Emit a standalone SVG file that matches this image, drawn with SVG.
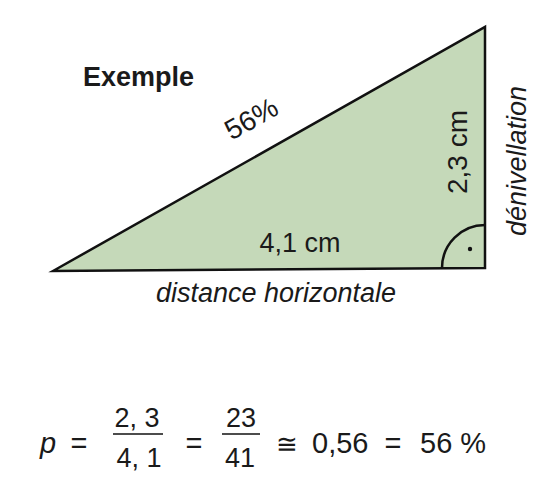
<svg xmlns="http://www.w3.org/2000/svg" width="539" height="484" viewBox="0 0 539 484">
<style>
.t{font-family:"Liberation Sans",Arial,sans-serif;fill:#1a1a1a}
.i{font-style:italic}
.edge{fill:none;stroke:#111;stroke-width:2.5}
</style>
<rect width="539" height="484" fill="#ffffff"/>
<g id="triangle">
<polygon points="53,271 485,27 485,268" fill="#c5d9b9" stroke="#111" stroke-width="2.5" stroke-linejoin="miter"/>
<path class="edge" d="M442,268 A43,43 0 0 1 485,225" stroke-width="2"/>
<circle cx="470" cy="249" r="2.2" fill="#111"/>
</g>
<g id="title"><text class="t" x="83" y="86" font-size="27" font-weight="bold">Exemple</text></g>
<g id="labels">
<text class="t" font-size="28" text-anchor="middle" transform="translate(256,127) rotate(-29.5)">56%</text>
<text class="t" x="300" y="252" font-size="27" text-anchor="middle">4,1 cm</text>
<text class="t" font-size="28" text-anchor="middle" transform="translate(467,152) rotate(-90)">2,3 cm</text>
<text class="t i" font-size="27" text-anchor="middle" transform="translate(526,161) rotate(-90)">dénivellation</text>
<text class="t i" x="276" y="302" font-size="27" text-anchor="middle">distance horizontale</text>
</g>
<g id="formula">
<text class="t i" x="40" y="453" font-size="29">p</text>
<text class="t" x="79" y="453" font-size="29" text-anchor="middle">=</text>
<text class="t" x="137" y="427" font-size="27" text-anchor="middle">2, 3</text>
<line x1="113" y1="434" x2="163" y2="434" stroke="#111" stroke-width="1.6"/>
<text class="t" x="139" y="467" font-size="27" text-anchor="middle">4, 1</text>
<text class="t" x="194" y="453" font-size="29" text-anchor="middle">=</text>
<text class="t" x="241" y="427" font-size="27" text-anchor="middle">23</text>
<line x1="222" y1="434" x2="260" y2="434" stroke="#111" stroke-width="1.6"/>
<text class="t" x="240" y="467" font-size="27" text-anchor="middle">41</text>
<text class="t" x="287" y="453" font-size="26" text-anchor="middle">≅</text>
<text class="t" x="312" y="453" font-size="29">0,56</text>
<text class="t" x="393" y="453" font-size="29" text-anchor="middle">=</text>
<text class="t" x="420" y="453" font-size="29">56 %</text>
</g>
</svg>
